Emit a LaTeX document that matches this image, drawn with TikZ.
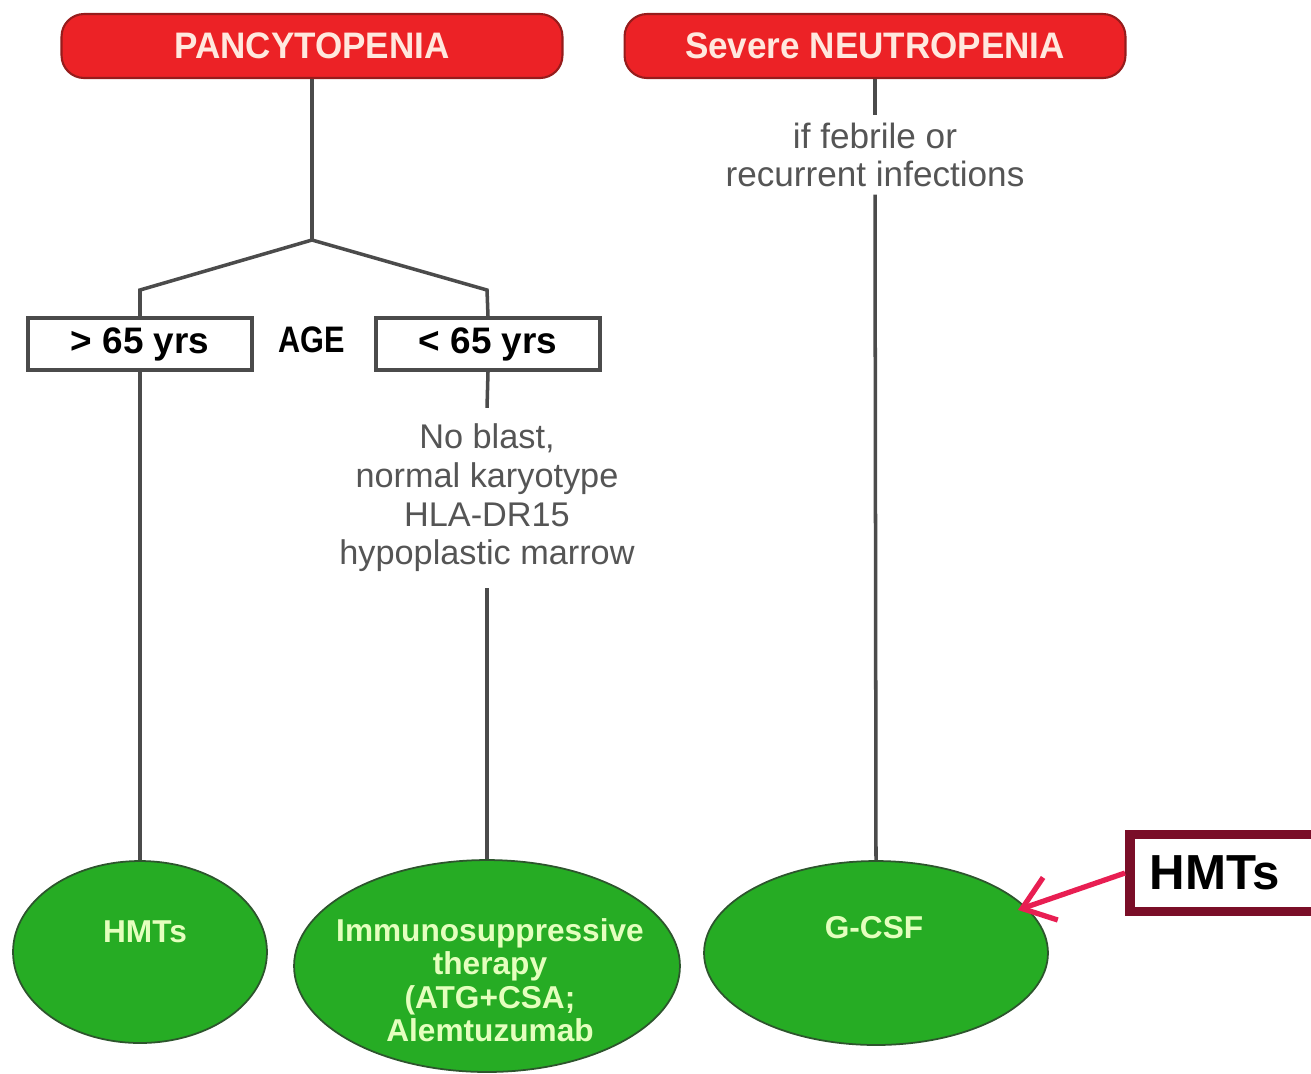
\documentclass[tikz,border=0pt]{standalone}
\usepackage{fontspec}
\setmainfont{Liberation Sans}
\newfontfamily\condfont{Liberation Sans}[FakeStretch=0.83]
\newfontfamily\widefont{Liberation Sans}[FakeStretch=0.95]
\usetikzlibrary{positioning,arrows.meta,shapes.geometric}
\definecolor{alarmcol}{RGB}{236,34,38}
\definecolor{alarmedge}{RGB}{150,28,28}
\definecolor{alarmtxt}{RGB}{255,232,222}
\definecolor{treatcol}{RGB}{38,172,36}
\definecolor{treatedge}{RGB}{45,85,45}
\definecolor{treattxt}{RGB}{228,255,190}
\definecolor{stemcol}{RGB}{75,75,75}
\definecolor{notecol}{RGB}{85,85,85}
\definecolor{flagcol}{RGB}{122,14,40}
\definecolor{pointcol}{RGB}{232,30,82}

\begin{document}
\begin{tikzpicture}[x=0.02cm, y=-0.02cm,
  alarm/.style={rectangle, draw=alarmedge, fill=alarmcol, line width=1.2pt, rounded corners=0.45cm,
                text=alarmtxt, font=\widefont\bfseries\fontsize{21}{24}\selectfont,
                minimum width=10.02cm, minimum height=1.28cm},
  agebox/.style={rectangle, draw=stemcol, line width=2pt, fill=white,
                 font=\bfseries\fontsize{21}{24}\selectfont, minimum width=4.48cm, minimum height=1.04cm},
  treat/.style={ellipse, draw=treatedge, fill=treatcol, line width=1pt, inner sep=0pt},
  treatlbl/.style={text=treattxt, font=\bfseries\fontsize{18}{19}\selectfont, align=center, inner sep=0pt},
  note/.style={fill=white, text=notecol, font=\fontsize{19.5}{22}\selectfont, align=center, inner sep=9pt},
  stem/.style={draw=stemcol, line width=2pt},
  flagbox/.style={rectangle, draw=flagcol, line width=5.6pt, fill=white,
                  font=\bfseries\fontsize{28}{32}\selectfont, text width=4cm, align=left,
                  inner xsep=0.4cm, minimum height=1.54cm},
  pointer/.style={-{Straight Barb[length=0.6cm, width=0.9cm]}, draw=pointcol, line width=3pt}
]
\useasboundingbox (0,0) rectangle (1311,1073);

\node[alarm] (pancy) at (312,46) {PANCYTOPENIA};
\node[alarm] (neutro) at (875,46) {Severe NEUTROPENIA};

\node[agebox] (old)   at (140,344) {> 65 yrs};
\node[agebox] (young) at (488,344) {< 65 yrs};
\node[font=\condfont\bfseries\fontsize{21}{24}\selectfont] (age) at (312,340) {AGE};

\node[note] (blast) at (487,498) {No blast,\\normal karyotype\\HLA-DR15\\hypoplastic marrow};
\node[note, inner ysep=4pt, font=\fontsize{20}{22}\selectfont] (febrile) at (875,155) {if febrile or\\recurrent infections};

\node[treat, minimum width=5.08cm, minimum height=3.64cm] (hmt)  at (140,952) {};
\node[treat, minimum width=7.72cm, minimum height=4.24cm] (ist)  at (487,966) {};
\node[treat, minimum width=6.88cm, minimum height=3.68cm] (gcsf) at (876,953) {};
\node[treatlbl] (hmtT)  at (145,932) {HMTs};
\node[treatlbl] (istT)  at (490,980) {Immunosuppressive\\therapy\\(ATG+CSA;\\Alemtuzumab};
\node[treatlbl] (gcsfT) at (874,928) {G-CSF};

\coordinate (fork) at (312,240);
\coordinate (oldbend) at (140,290);
\coordinate (youngbend) at (487,290);

\draw[stem] (pancy.south) -- (fork) -- (oldbend) -- (old.north);
\draw[stem] (fork) -- (youngbend) -- (young.north);
\draw[stem] (old.south) -- (hmt.north);
\draw[stem] (young.south) -- (blast.north);
\draw[stem] (blast.south) -- (ist.north);
\draw[stem] (neutro.south) -- (febrile.north);
\draw[stem] (febrile.south) -- (gcsf.north);

\node[flagbox, anchor=west] (flag) at (1125,873) {HMTs};
\draw[pointer, shorten >=-5pt] (flag.west) -- (gcsf.17);

\end{tikzpicture}
\end{document}
